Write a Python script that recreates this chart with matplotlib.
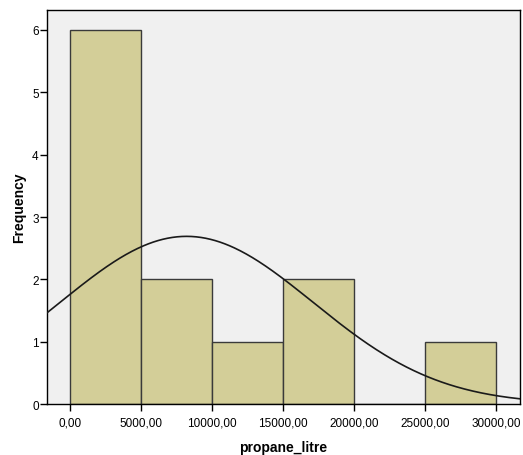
import numpy as np
import matplotlib
matplotlib.use("Agg")
import matplotlib.pyplot as plt

plt.rcParams['font.family'] = ['Liberation Sans', 'DejaVu Sans']

# histogram of propane_litre (bin edges and counts)
bin_edges = [0, 5000, 10000, 15000, 20000, 25000, 30000]
counts = [6, 2, 1, 2, 0, 1]
x_ticks = [0, 5000, 10000, 15000, 20000, 25000, 30000]
y_ticks = [0, 1, 2, 3, 4, 5, 6]

# normal curve fitted to the data
mean = 8200
sd = 8900
n = sum(counts)
bin_width = 5000

fig = plt.figure(figsize=(5.23, 4.56), dpi=100)
ax = fig.add_axes([0.0899, 0.1118, 0.9041, 0.864])
ax.set_facecolor('#F0F0F0')

lefts = bin_edges[:-1]
ax.bar(lefts, counts, width=bin_width, align='edge', color='#D3CE98',
       edgecolor='#3A3A3A', linewidth=1.0, zorder=2)

xs = np.linspace(-1700, 31800, 400)
ys = n * bin_width / (sd * np.sqrt(2 * np.pi)) * np.exp(-0.5 * ((xs - mean) / sd) ** 2)
ax.plot(xs, ys, color='#1A1A1A', linewidth=1.2, zorder=3)

ax.set_xlim(-1620, 31650)
ax.set_ylim(0, 6.32)
ax.set_xticks(x_ticks)
ax.set_xticklabels([f"{v:.2f}".replace('.', ',') for v in x_ticks])
ax.set_yticks(y_ticks)
ax.tick_params(axis='both', direction='out', length=5, width=1, labelsize=8.5, colors='black')
ax.tick_params(axis='x', pad=4)
ax.tick_params(axis='y', pad=1)
for s in ax.spines.values():
    s.set_color('black')
    s.set_linewidth(1)

ax.set_xlabel('propane_litre', fontsize=10, fontweight='bold', labelpad=8)
ax.set_ylabel('Frequency', fontsize=10, fontweight='bold', labelpad=4)

fig.savefig('out.png', dpi=100)
